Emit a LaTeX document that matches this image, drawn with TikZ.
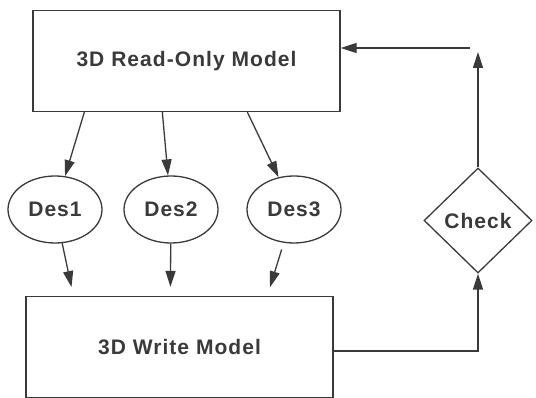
\documentclass[tikz,border=0pt]{standalone}
\usepackage{fontspec}
\setmainfont{Liberation Sans}[LetterSpace=5]
\usetikzlibrary{shapes.geometric,arrows.meta}
\definecolor{ink}{HTML}{3A3A3A}
\begin{document}
\begin{tikzpicture}[x=1pt, y=-1pt, ink, line width=1.3pt,
    every node/.style={draw=ink, text=ink, font=\fontsize{21}{24}\selectfont\bfseries, inner sep=0pt},
    model/.style={rectangle, minimum width=307pt, minimum height=101pt},
    des/.style={ellipse, minimum width=94pt, minimum height=67pt},
    check/.style={diamond, aspect=1, minimum width=108pt, minimum height=105pt},
    >={Triangle[length=16pt, width=10pt]}]
    \path[use as bounding box] (0,0) rectangle (536,398);
    \node[model] (RO) at (186.5,61)  {3D Read-Only Model};
    \node[model] (WM) at (179.5,347) {3D Write Model};
    \node[des] (D1) at (55,209.5)  {Des1};
    \node[des] (D2) at (171,209.5) {Des2};
    \node[des] (D3) at (294,209.5) {Des3};
    \node[check] (C) at (478,220.5) {Check};
    \coordinate (T) at (478,48);

    % read-only model to the designers
    \draw[->] ([xshift=52pt]RO.south west) -- (D1);
    \draw[->] ([xshift=130pt]RO.south west) -- (D2);
    \draw[->] ([xshift=215pt]RO.south west) -- (D3);
    % designers to write model
    \draw[->, shorten >=9pt] (D1) -- ([xshift=48pt]WM.north west);
    \draw[->, shorten >=9pt] (D2) -- ([xshift=145pt]WM.north west);
    \draw[->, shorten <=7pt, shorten >=9pt] (D3) -- ([xshift=242pt]WM.north west);
    % loop back through the check
    \draw[->] ([yshift=-4pt]WM.east) -| (C.south);
    \draw[->] (C.north) -- ([yshift=-4pt]T);
    \draw[->] ([xshift=-8pt]T) -- (RO.east |- T);
\end{tikzpicture}
\end{document}
